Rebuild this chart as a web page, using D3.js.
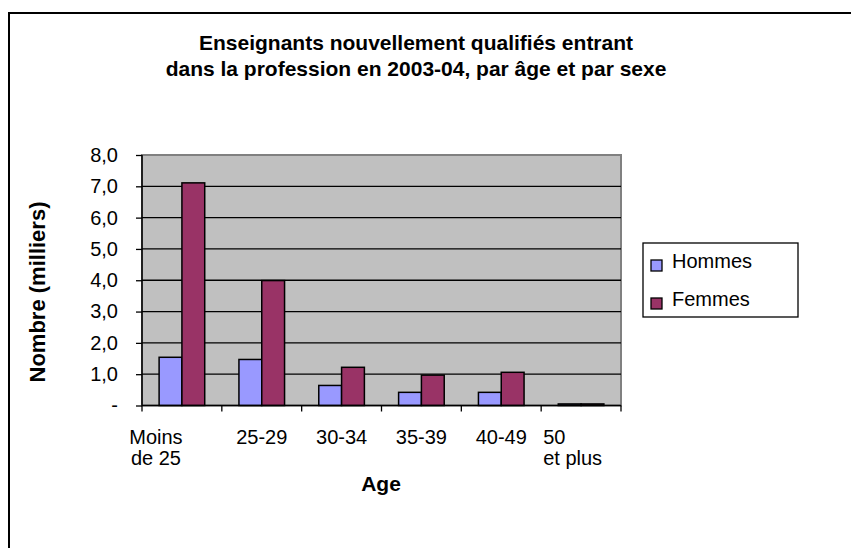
<!DOCTYPE html>
<html>
<head>
<meta charset="utf-8">
<script src="https://cdn.jsdelivr.net/npm/d3@7"></script>
<style>
  body { margin: 0; background: #fff; }
  text { font-family: "Liberation Sans", Arial, sans-serif; }
</style>
</head>
<body>
<script>
var categories = [["Moins", "de 25"], ["25-29"], ["30-34"], ["35-39"], ["40-49"], ["50", "et plus"]];
var hommes = [1.54, 1.47, 0.64, 0.42, 0.42, 0.05];
var femmes = [7.11, 3.99, 1.22, 0.97, 1.06, 0.05];
var seriesNames = ["Hommes", "Femmes"];
var seriesColors = ["#9999ff", "#993366"];
var yTicks = [0, 1, 2, 3, 4, 5, 6, 7, 8];

var svg = d3.select("body")
    .append("svg")
    .attr("width", 851)
    .attr("height", 548)
    .style("display", "block");

// chart area border (runs off the right and bottom edge)
svg.append("rect")
    .attr("x", 9).attr("y", 13)
    .attr("width", 900).attr("height", 600)
    .attr("fill", "#fff")
    .attr("stroke", "#000")
    .attr("stroke-width", 2);

var margin = {top: 155, left: 142};
var width = 479, height = 250.5;
var g = svg.append("g").attr("transform", "translate(" + margin.left + "," + margin.top + ")");

var x = d3.scaleBand()
    .domain(d3.range(categories.length))
    .range([0, width]);

var x1 = d3.scaleBand()
    .domain([0, 1])
    .range([0, x.bandwidth()])
    .paddingOuter(0.75)
    .paddingInner(0);

var y = d3.scaleLinear()
    .domain([0, 8])
    .range([height, 0]);

// plot background
g.append("rect")
    .attr("width", width).attr("height", height)
    .attr("fill", "#c0c0c0")
    .attr("stroke", "#808080")
    .attr("stroke-width", 2);

var yAxis = d3.axisLeft(y)
    .tickValues(yTicks)
    .tickSize(6)
    .tickFormat(function(d) { return d === 0 ? "-" : d.toFixed(1).replace(".", ","); });

// gridlines
g.append("g")
    .selectAll("line")
    .data(yTicks.slice(1, -1))
    .enter()
    .append("line")
    .attr("x1", 0).attr("x2", width)
    .attr("y1", function(d) { return y(d); })
    .attr("y2", function(d) { return y(d); })
    .attr("stroke", "#000")
    .attr("stroke-width", 1.3);

var series = [hommes, femmes];
series.forEach(function(vals, s) {
    g.selectAll(".bar" + s)
        .data(vals)
        .enter()
        .append("rect")
        .attr("x", function(d, i) { return x(i) + x1(s); })
        .attr("y", function(d) { return y(d); })
        .attr("width", x1.bandwidth())
        .attr("height", function(d) { return height - y(d); })
        .attr("fill", seriesColors[s])
        .attr("stroke", "#000")
        .attr("stroke-width", 1.5);
});

g.append("g")
    .call(customYAxis);

function customYAxis(sel) {
    sel.call(yAxis);
    sel.select(".domain").remove();
    sel.selectAll(".tick line").attr("stroke", "#000").attr("stroke-width", 1.3);
    sel.selectAll(".tick text")
        .attr("x", -24)
        .style("font-size", "20px")
        .attr("fill", "#000");
}

// axis lines
g.append("line").attr("x1", 0).attr("x2", 0).attr("y1", 0).attr("y2", height)
    .attr("stroke", "#000").attr("stroke-width", 1.5);
g.append("line").attr("x1", 0).attr("x2", width).attr("y1", height).attr("y2", height)
    .attr("stroke", "#000").attr("stroke-width", 1.5);

// x ticks at category boundaries
g.append("g")
    .selectAll("line")
    .data(d3.range(categories.length + 1))
    .enter()
    .append("line")
    .attr("x1", function(i) { return i * x.step(); })
    .attr("x2", function(i) { return i * x.step(); })
    .attr("y1", height).attr("y2", height + 6)
    .attr("stroke", "#000").attr("stroke-width", 1.3);

// x labels
var xl = g.append("g")
    .selectAll("text")
    .data(categories)
    .enter()
    .append("text")
    .attr("text-anchor", function(d, i) { return i === categories.length - 1 ? "start" : "middle"; })
    .attr("transform", function(d, i) {
        var cx = x(i) + x.bandwidth() / 2;
        if (i === 0) cx -= 26;
        if (i === categories.length - 1) cx = x(i) + 2;
        return "translate(" + cx + "," + (height + 38) + ")";
    })
    .style("font-size", "20px");
xl.selectAll("tspan")
    .data(function(d) { return d; })
    .enter()
    .append("tspan")
    .attr("x", 0)
    .attr("dy", function(d, i) { return i === 0 ? 0 : 21; })
    .text(function(d) { return d; });

// title
var title = svg.append("text")
    .attr("x", 416).attr("y", 50)
    .attr("text-anchor", "middle")
    .style("font-size", "21px")
    .style("font-weight", "bold");
title.append("tspan").attr("x", 416).text("Enseignants nouvellement qualifiés entrant");
title.append("tspan").attr("x", 416).attr("dy", 26).text("dans la profession en 2003-04, par âge et par sexe");

// axis titles
svg.append("text")
    .attr("transform", "translate(45,292) rotate(-90)")
    .attr("text-anchor", "middle")
    .style("font-size", "22px")
    .style("font-weight", "bold")
    .text("Nombre (milliers)");

svg.append("text")
    .attr("x", 381).attr("y", 491)
    .attr("text-anchor", "middle")
    .style("font-size", "21px")
    .style("font-weight", "bold")
    .text("Age");

// legend
var legend = svg.append("g").attr("transform", "translate(643,243)");
legend.append("rect")
    .attr("width", 155).attr("height", 74)
    .attr("fill", "#fff")
    .attr("stroke", "#000")
    .attr("stroke-width", 1.3);
var li = legend.selectAll(".item")
    .data(seriesNames)
    .enter()
    .append("g")
    .attr("transform", function(d, i) { return "translate(8," + (17 + i * 38) + ")"; });
li.append("rect")
    .attr("width", 11).attr("height", 11)
    .attr("fill", function(d, i) { return seriesColors[i]; })
    .attr("stroke", "#000")
    .attr("stroke-width", 1.3);
li.append("text")
    .attr("x", 21).attr("y", 8)
    .style("font-size", "20px")
    .text(function(d) { return d; });
</script>
</body>
</html>
